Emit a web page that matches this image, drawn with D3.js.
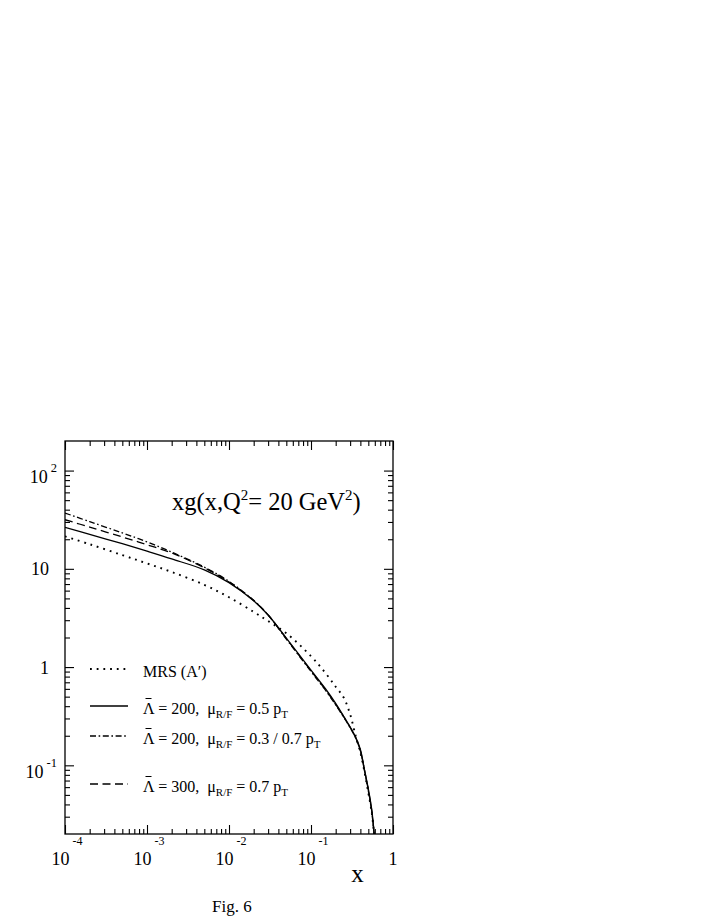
<!DOCTYPE html>
<html><head><meta charset="utf-8">
<script src="https://cdn.jsdelivr.net/npm/d3@7"></script>
<style>body{margin:0;background:#fff}svg{display:block}</style>
</head><body><svg id="c" width="708" height="917"></svg>
<script>
// ---- data ----
const xGrid = [1e-4, 2e-4, 5e-4, 1e-3, 2e-3, 5e-3, 1e-2, 2e-2, 3e-2, 5e-2, 0.1, 0.15, 0.2, 0.25, 0.3, 0.35, 0.4, 0.45, 0.5, 0.55, 0.59];
const mrsA      = [21.4, 17.8, 13.8, 11.35, 9.29, 6.87, 5.14, 3.64, 2.94, 2.21, 1.29, 0.871, 0.631, 0.490, 0.331, 0.200, 0.135, 0.0851, 0.0525, 0.0331, 0.0195];
const lam200_05 = [26.4, 22.4, 18.0, 15.1, 12.6, 9.77, 7.24, 4.73, 3.39, 1.97, 0.933, 0.603, 0.427, 0.316, 0.245, 0.193, 0.145, 0.0891, 0.0575, 0.0355, 0.0200];
const lam200_37 = [37.0, 30.2, 23.2, 18.8, 14.8, 10.4, 7.45, 4.78, 3.39, 1.93, 0.902, 0.582, 0.412, 0.309, 0.242, 0.190, 0.140, 0.0871, 0.0550, 0.0339, 0.0191];
const lam300_07 = [31.6, 26.6, 21.1, 17.6, 14.5, 10.25, 7.35, 4.75, 3.39, 1.95, 0.912, 0.589, 0.417, 0.313, 0.244, 0.192, 0.141, 0.0881, 0.0562, 0.0347, 0.0195];

const xMajorTicks = [1e-4, 1e-3, 1e-2, 1e-1, 1];
const xTickBase = ["10", "10", "10", "10", "1"];
const xTickExp = ["-4", "-3", "-2", "-1", ""];
const yMajorTicks = [0.1, 1, 10, 100];
const yTickBase = ["10", "1", "10", "10"];
const yTickExp = ["-1", "", "", "2"];

const series = [
  {name: "mrs", values: mrsA, dash: "1.8,4.9", width: 1.9},
  {name: "l200_05", values: lam200_05, dash: null, width: 1.3},
  {name: "l200_37", values: lam200_37, dash: "6,2.6,1.6,2.6", width: 1.3},
  {name: "l300_07", values: lam300_07, dash: "8,4.5", width: 1.3}
];

// ---- layout ----
const L = 65, R = 393, T = 441, B = 834;
const svg = d3.select("#c");
const serif = "'Liberation Serif','Times New Roman',serif";

const x = d3.scaleLog().domain([1e-4, 1]).range([L, R]);
const y = d3.scaleLog().domain([0.02, 200]).range([B, T]);

function minorTicks(lo, hi) {
  const out = [];
  for (let e = Math.floor(Math.log10(lo)); e <= Math.ceil(Math.log10(hi)); e++) {
    for (let m = 2; m <= 9; m++) {
      const v = m * Math.pow(10, e);
      if (v > lo * 1.0001 && v < hi * 0.9999) out.push(v);
    }
  }
  return out;
}
const xMinor = minorTicks(1e-4, 1);
const yMinor = minorTicks(0.02, 200);

function addAxis(gen, tr) {
  const g = svg.append("g").attr("transform", tr).call(gen);
  g.select(".domain").remove();
  g.selectAll("line").attr("stroke", "#000").attr("stroke-width", 1.1);
  g.selectAll("text").remove();
  return g;
}
// inward ticks on all four sides
addAxis(d3.axisBottom(x).tickValues(xMajorTicks).tickSize(-9).tickFormat(""), `translate(0,${B})`);
addAxis(d3.axisBottom(x).tickValues(xMinor).tickSize(-5).tickFormat(""), `translate(0,${B})`);
addAxis(d3.axisTop(x).tickValues(xMajorTicks).tickSize(-9).tickFormat(""), `translate(0,${T})`);
addAxis(d3.axisTop(x).tickValues(xMinor).tickSize(-5).tickFormat(""), `translate(0,${T})`);
addAxis(d3.axisLeft(y).tickValues(yMajorTicks).tickSize(-9).tickFormat(""), `translate(${L},0)`);
addAxis(d3.axisLeft(y).tickValues(yMinor).tickSize(-5).tickFormat(""), `translate(${L},0)`);
addAxis(d3.axisRight(y).tickValues(yMajorTicks).tickSize(-9).tickFormat(""), `translate(${R},0)`);
addAxis(d3.axisRight(y).tickValues(yMinor).tickSize(-5).tickFormat(""), `translate(${R},0)`);

// frame
svg.append("rect").attr("x", L).attr("y", T).attr("width", R - L).attr("height", B - T)
  .attr("fill", "none").attr("stroke", "#000").attr("stroke-width", 1.3);

// x tick labels
xMajorTicks.forEach((v, i) => {
  const t = svg.append("text").attr("x", x(v) + (xTickExp[i] ? 2 : 0)).attr("y", B + 31)
    .attr("text-anchor", "middle").attr("font-family", serif).attr("font-size", 18).text(xTickBase[i]);
  if (xTickExp[i]) t.append("tspan").attr("dx", 3).attr("dy", -20).attr("font-size", 12).text(xTickExp[i]);
});
// y tick labels
yMajorTicks.forEach((v, i) => {
  if (yTickExp[i]) {
    const t = svg.append("text").attr("x", 57).attr("y", y(v) + 12.5)
      .attr("text-anchor", "end").attr("font-family", serif).attr("font-size", 18).text(yTickBase[i]);
    t.append("tspan").attr("dx", 3).attr("dy", -11).attr("font-size", 12.5).text(yTickExp[i]);
  } else {
    svg.append("text").attr("x", 49).attr("y", y(v) + 6.5)
      .attr("text-anchor", "end").attr("font-family", serif).attr("font-size", 18).text(yTickBase[i]);
  }
});

// axis title
svg.append("text").attr("x", 357.5).attr("y", 881.5).attr("text-anchor", "middle")
  .attr("font-family", serif).attr("font-size", 25).text("x");

// curves
svg.append("clipPath").attr("id", "clip").append("rect")
  .attr("x", L).attr("y", T).attr("width", R - L).attr("height", B - T);
const line = d3.line().x(d => x(d[0])).y(d => y(d[1])).curve(d3.curveCatmullRom.alpha(0.5));
const cg = svg.append("g").attr("clip-path", "url(#clip)");
series.forEach(s => {
  cg.append("path").datum(xGrid.map((xv, i) => [xv, s.values[i]]))
    .attr("d", line).attr("fill", "none").attr("stroke", "#000")
    .attr("stroke-width", s.width).attr("stroke-dasharray", s.dash);
});

// title inside plot
const title = svg.append("text").attr("x", 172).attr("y", 510).attr("font-family", serif).attr("font-size", 24.5);
title.append("tspan").text("xg(x,Q");
title.append("tspan").attr("dy", -10).attr("font-size", 15).text("2");
title.append("tspan").attr("dy", 10).text("= 20 GeV");
title.append("tspan").attr("dy", -10).attr("font-size", 15).text("2");
title.append("tspan").attr("dy", 10).text(")");

// legend
const legendY = [669, 706, 736, 784];
const legendRows = [
  {s: series[0], bar: false, parts: [["MRS (A\u2032)", 0]]},
  {s: series[1], bar: true, parts: [["\u039B = 200,  \u03BC", 0], ["R/F", 1], [" = 0.5 p", 0], ["T", 1]]},
  {s: series[2], bar: true, parts: [["\u039B = 200,  \u03BC", 0], ["R/F", 1], [" = 0.3 / 0.7 p", 0], ["T", 1]]},
  {s: series[3], bar: true, parts: [["\u039B = 300,  \u03BC", 0], ["R/F", 1], [" = 0.7 p", 0], ["T", 1]]}
];
legendRows.forEach((row, i) => {
  const ly = legendY[i];
  svg.append("line").attr("x1", 90).attr("x2", 128).attr("y1", ly).attr("y2", ly)
    .attr("stroke", "#000").attr("stroke-width", row.s.width)
    .attr("stroke-dasharray", row.s.dash);
  const t = svg.append("text").attr("x", 143).attr("y", ly + 7.5)
    .attr("font-family", serif).attr("font-size", 16).style("white-space", "pre");
  let sub = false;
  row.parts.forEach(([txt, isSub]) => {
    const sp = t.append("tspan").text(txt);
    if (isSub && !sub) { sp.attr("dy", 4).attr("font-size", 11); sub = true; }
    else if (isSub) { sp.attr("font-size", 11); }
    else if (!isSub && sub) { sp.attr("dy", -4); sub = false; }
  });
  if (row.bar) {
    svg.append("line").attr("x1", 145.5).attr("x2", 151.5).attr("y1", ly - 7.5).attr("y2", ly - 7.5)
      .attr("stroke", "#000").attr("stroke-width", 1);
  }
});

// figure caption
svg.append("text").attr("x", 212).attr("y", 912).attr("font-family", serif).attr("font-size", 17).text("Fig. 6");
</script>
</body></html>
